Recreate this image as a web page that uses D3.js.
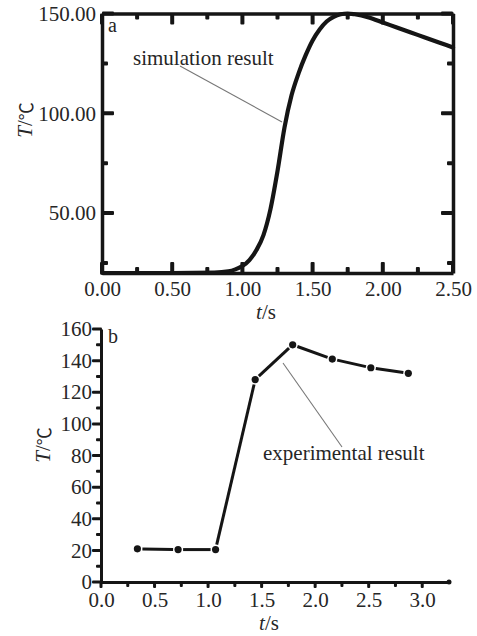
<!DOCTYPE html>
<html>
<head>
<meta charset="utf-8">
<script src="https://cdn.jsdelivr.net/npm/d3@7"></script>
<style>
  html, body { margin: 0; padding: 0; background: #fff; }
  svg { display: block; }
  text { font-family: "Liberation Serif", "Times New Roman", serif; fill: #262626; }
</style>
</head>
<body>
<svg id="chart" width="477" height="636"></svg>
<script>
// ---------- Data ----------
// Panel a: simulation result (t in s, T in °C)
const simTime = [0, 0.5, 0.8, 0.9, 0.95, 1.0, 1.05, 1.1, 1.15, 1.2, 1.25, 1.3, 1.35, 1.4, 1.45, 1.5, 1.55, 1.6, 1.65, 1.7, 1.75, 1.8, 1.9, 2.0, 2.1, 2.2, 2.3, 2.4, 2.5];
const simTemp = [20, 20, 20.2, 20.8, 21.8, 23.5, 26.5, 31.5, 39, 52, 71, 93, 109, 120, 129, 136.5, 142, 146, 148.3, 149.6, 150, 149.6, 148, 145.5, 143, 140.5, 138, 135.5, 133];
// Panel b: experimental result
const expTime = [0.34, 0.72, 1.07, 1.44, 1.79, 2.16, 2.52, 2.87];
const expTemp = [21, 20.5, 20.5, 128, 150, 141, 135.5, 132];

// Tick values
const aXMajor = [0, 0.5, 1.0, 1.5, 2.0, 2.5];
const aXMinor = [0.25, 0.75, 1.25, 1.75, 2.25];
const aYMajor = [50, 100, 150];
const aYMinor = [25, 75, 125];
const bXMajor = [0, 0.5, 1.0, 1.5, 2.0, 2.5, 3.0];
const bXMinor = [0.25, 0.75, 1.25, 1.75, 2.25, 2.75];
const bYMajor = [0, 20, 40, 60, 80, 100, 120, 140, 160];
const bYMinor = [10, 30, 50, 70, 90, 110, 130, 150];

// Texts
const panelALabel = "a";
const panelBLabel = "b";
const simNote = "simulation result";
const expNote = "experimental result";

const svg = d3.select("#chart");
const FS = 21;
const INK = "#151515";

function styleAxis(g, width) {
  g.selectAll(".domain").attr("stroke", INK).style("stroke", INK).style("stroke-width", width + "px");
  g.selectAll(".tick line").remove();
  g.selectAll(".tick text").style("font-family", "'Liberation Serif', serif").style("font-size", FS + "px").style("fill", "#262626");
}

// tick marks drawn from the scales as small filled rects
function ticks(g, scale, values, orient, pos, len, w) {
  const horiz = orient === "bottom" || orient === "top";
  const lo = Math.min(pos, pos + len), ext = Math.abs(len);
  g.append("g").selectAll("rect").data(values).join("rect")
    .attr("x", d => horiz ? scale(d) - w / 2 : lo)
    .attr("y", d => horiz ? lo : scale(d) - w / 2)
    .attr("width", horiz ? w : ext)
    .attr("height", horiz ? ext : w)
    .attr("rx", 1)
    .attr("fill", INK);
}

function yTitle(x, y) {
  const t = svg.append("text")
    .attr("transform", `translate(${x},${y}) rotate(-90)`)
    .attr("text-anchor", "middle")
    .attr("dominant-baseline", "central")
    .style("font-size", FS + "px");
  t.append("tspan").style("font-style", "italic").text("T");
  t.append("tspan").text("/");
  t.append("tspan").style("font-family", "'Noto Sans CJK SC', sans-serif").style("font-size", "18px").text("℃");
}
function xTitle(x, y) {
  const t = svg.append("text")
    .attr("x", x).attr("y", y)
    .attr("text-anchor", "middle")
    .style("font-size", FS + "px");
  t.append("tspan").style("font-style", "italic").text("t");
  t.append("tspan").text("/s");
}

// ---------- Panel a ----------
const ax = d3.scaleLinear().domain([0, 2.5]).range([102, 453]);
const ay = d3.scaleLinear().domain([20, 150]).range([273, 13.5]);
const aBottom = 273, aTop = 13.5, aLeft = 102, aRight = 453;

const ga = svg.append("g");
ga.append("g").attr("transform", `translate(0,${aBottom})`)
  .call(d3.axisBottom(ax).tickValues(aXMajor).tickSize(0).tickPadding(8).tickFormat(d3.format(".2f")))
  .call(g => styleAxis(g, 3.5));
ga.append("g").attr("transform", `translate(0,${aTop})`)
  .call(d3.axisTop(ax).tickValues(aXMajor).tickSize(0).tickFormat(""))
  .call(g => styleAxis(g, 3.5));
ga.append("g").attr("transform", `translate(${aLeft},0)`)
  .call(d3.axisLeft(ay).tickValues(aYMajor).tickSize(0).tickPadding(6).tickFormat(d3.format(".2f")))
  .call(g => styleAxis(g, 3.5));
ga.append("g").attr("transform", `translate(${aRight},0)`)
  .call(d3.axisRight(ay).tickValues(aYMajor).tickSize(0).tickFormat(""))
  .call(g => styleAxis(g, 3.5));
ticks(ga, ax, aXMajor, "bottom", aBottom, -11, 4);
ticks(ga, ax, aXMinor, "bottom", aBottom, -6, 4);
ticks(ga, ax, aXMajor, "top", aTop, 11, 4);
ticks(ga, ax, aXMinor, "top", aTop, 6, 4);
ticks(ga, ay, aYMajor, "left", aLeft, 12, 4);
ticks(ga, ay, aYMinor, "left", aLeft, 6, 4);
ticks(ga, ay, aYMajor, "right", aRight, -12, 4);
ticks(ga, ay, aYMinor, "right", aRight, -6, 4);

const simData = simTime.map((t, i) => ({ t, T: simTemp[i] }));
ga.append("path").datum(simData)
  .attr("fill", "none").attr("stroke", INK).attr("stroke-width", 4.2)
  .attr("stroke-linejoin", "round").attr("stroke-linecap", "round")
  .attr("d", d3.line().x(d => ax(d.t)).y(d => ay(d.T)).curve(d3.curveMonotoneX));

svg.append("text").attr("x", 108).attr("y", 32).style("font-size", "20px").text(panelALabel);
svg.append("text").attr("x", 133).attr("y", 65).style("font-size", FS + "px").text(simNote);
svg.append("line").attr("x1", 180).attr("y1", 66).attr("x2", 282).attr("y2", 122)
  .attr("stroke", "#777").attr("stroke-width", 1.1);

yTitle(25, 120);
xTitle(266, 319);

// ---------- Panel b ----------
const bx = d3.scaleLinear().domain([0, 3.25]).range([101, 449]);
const by = d3.scaleLinear().domain([0, 160]).range([582, 329]);
const bBottom = 582, bLeft = 101;

const gb = svg.append("g");
gb.append("g").attr("transform", `translate(0,${bBottom})`)
  .call(d3.axisBottom(bx).tickValues(bXMajor).tickSize(0).tickPadding(10).tickFormat(d3.format(".1f")))
  .call(g => styleAxis(g, 3));
gb.append("g").attr("transform", `translate(${bLeft},0)`)
  .call(d3.axisLeft(by).tickValues(bYMajor).tickSize(0).tickPadding(9).tickFormat(d3.format("d")))
  .call(g => styleAxis(g, 3));
ticks(gb, bx, bXMajor, "bottom", bBottom - 1, 7, 3);
ticks(gb, bx, bXMinor, "bottom", bBottom - 1, 6, 3);
ticks(gb, by, bYMajor, "left", bLeft + 1, -10, 3);
ticks(gb, by, bYMinor, "left", bLeft + 1, -6, 3);
gb.append("circle").attr("cx", bx(3.25)).attr("cy", bBottom).attr("r", 2.5).attr("fill", INK);

// series with gaps around markers
const expData = expTime.map((t, i) => ({ t, T: expTemp[i] }));
const gap = 5;
for (let i = 0; i < expData.length - 1; i++) {
  const x1 = bx(expData[i].t), y1 = by(expData[i].T);
  const x2 = bx(expData[i + 1].t), y2 = by(expData[i + 1].T);
  const L = Math.hypot(x2 - x1, y2 - y1);
  const ux = (x2 - x1) / L, uy = (y2 - y1) / L;
  gb.append("line")
    .attr("x1", x1 + ux * gap).attr("y1", y1 + uy * gap)
    .attr("x2", x2 - ux * gap).attr("y2", y2 - uy * gap)
    .attr("stroke", INK).attr("stroke-width", 3);
}
gb.selectAll("circle.pt").data(expData).join("circle").attr("class", "pt")
  .attr("cx", d => bx(d.t)).attr("cy", d => by(d.T)).attr("r", 3.6).attr("fill", INK);

svg.append("text").attr("x", 108).attr("y", 343).style("font-size", "20px").text(panelBLabel);
svg.append("text").attr("x", 263).attr("y", 460).style("font-size", FS + "px").text(expNote);
svg.append("line").attr("x1", 342).attr("y1", 447).attr("x2", 283).attr("y2", 363)
  .attr("stroke", "#777").attr("stroke-width", 1.1);

yTitle(43, 445);
xTitle(269, 630);
</script>
</body>
</html>
